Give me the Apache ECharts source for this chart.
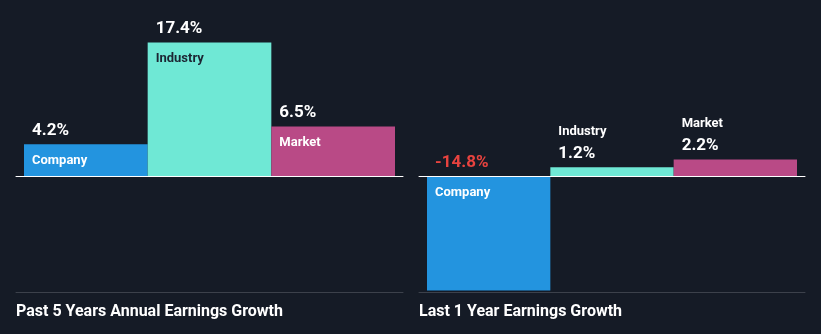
<!DOCTYPE html>
<html>
<head>
<meta charset="utf-8">
<script src="https://cdn.jsdelivr.net/npm/echarts@6/dist/echarts.min.js"></script>
<style>
  html, body { margin: 0; padding: 0; background: #151b26; }
  #chart { width: 821px; height: 334px; }
</style>
</head>
<body>
<div id="chart"></div>
<script>
// Earnings growth comparison: company vs industry vs market
const categories = ['Company', 'Industry', 'Market'];
const fiveYearGrowth = [4.2, 17.4, 6.5];
const oneYearGrowth = [-14.8, 1.2, 2.2];
const panelTitles = ['Past 5 Years Annual Earnings Growth', 'Last 1 Year Earnings Growth'];

const barColors = ['#2394df', '#6fe8d5', '#b94a86'];
const insideNameColors = ['#ffffff', '#1c2533', '#ffffff'];
const BG = '#151b26';
const FONT = 'Roboto, "Noto Sans", sans-serif';
const Y_MIN = -15, Y_MAX = 20;

// A bar is tall enough to hold its name inside when it spans at least this many percent
const INSIDE_MIN = 3;

function valueSeries(values, gi) {
  return {
    type: 'bar',
    xAxisIndex: gi, yAxisIndex: gi,
    barCategoryGap: 0,
    z: 2,
    data: values.map((v, i) => ({ value: v, itemStyle: { color: barColors[i] } })),
    label: {
      show: true,
      position: [8, -5],
      align: 'left',
      verticalAlign: 'bottom',
      fontFamily: FONT,
      fontSize: 17,
      fontWeight: 'bold',
      formatter: p => p.value.toFixed(1) + '%',
      color: '#ffffff'
    }
  };
}

function nameSeries(values, gi) {
  return {
    type: 'bar',
    xAxisIndex: gi, yAxisIndex: gi,
    barCategoryGap: 0,
    barGap: '-100%',
    silent: true,
    z: 3,
    data: values.map((v, i) => {
      const inside = Math.abs(v) >= INSIDE_MIN;
      return {
        value: v,
        itemStyle: { color: 'rgba(0,0,0,0)' },
        label: inside
          ? { position: [8, 10], verticalAlign: 'top', color: insideNameColors[i] }
          : { position: [8, -29], verticalAlign: 'bottom', color: '#ffffff' }
      };
    }),
    label: {
      show: true,
      align: 'left',
      fontFamily: FONT,
      fontSize: 13,
      fontWeight: 'bold',
      formatter: p => categories[p.dataIndex]
    }
  };
}

// Colour the negative value label red
function tintNegatives(series) {
  series.data.forEach(d => {
    if (d.value < 0) d.label = { color: '#e8433f' };
  });
  return series;
}

const hiddenX = gi => ({
  type: 'category', gridIndex: gi, data: categories, show: false
});
const hiddenY = gi => ({
  type: 'value', gridIndex: gi, min: Y_MIN, max: Y_MAX, show: false
});
const zeroLine = gi => ({
  type: 'category', gridIndex: gi, data: categories, position: 'top', z: 5,
  axisLine: { show: true, onZero: true, lineStyle: { color: '#ffffff', width: 1 } },
  axisTick: { show: false }, axisLabel: { show: false }, splitLine: { show: false }
});
const floorLine = gi => ({
  type: 'category', gridIndex: gi, data: categories, position: 'bottom', z: 1,
  axisLine: { show: true, onZero: false, lineStyle: { color: '#3c414b', width: 1 } },
  axisTick: { show: false }, axisLabel: { show: false }, splitLine: { show: false }
});

const chart = echarts.init(document.getElementById('chart'), null, { renderer: 'canvas' });

chart.setOption({
  backgroundColor: BG,
  animation: false,
  title: panelTitles.map((t, i) => ({
    text: t,
    left: i === 0 ? 16 : 419,
    top: 304,
    padding: 0,
    textStyle: { color: '#ffffff', fontFamily: FONT, fontSize: 16, fontWeight: 'bold' }
  })),
  grid: [
    { left: 24, right: 426, top: 22.5, bottom: 42 },
    { left: 427, right: 24, top: 22.5, bottom: 42 },
    { left: 16, right: 418, top: 22.5, bottom: 42 },
    { left: 419, right: 16, top: 22.5, bottom: 42 }
  ],
  xAxis: [hiddenX(0), hiddenX(1), zeroLine(2), floorLine(2), zeroLine(3), floorLine(3)],
  yAxis: [hiddenY(0), hiddenY(1), hiddenY(2), hiddenY(3)],
  series: [
    valueSeries(fiveYearGrowth, 0),
    nameSeries(fiveYearGrowth, 0),
    tintNegatives(valueSeries(oneYearGrowth, 1)),
    nameSeries(oneYearGrowth, 1)
  ]
});
</script>
</body>
</html>
